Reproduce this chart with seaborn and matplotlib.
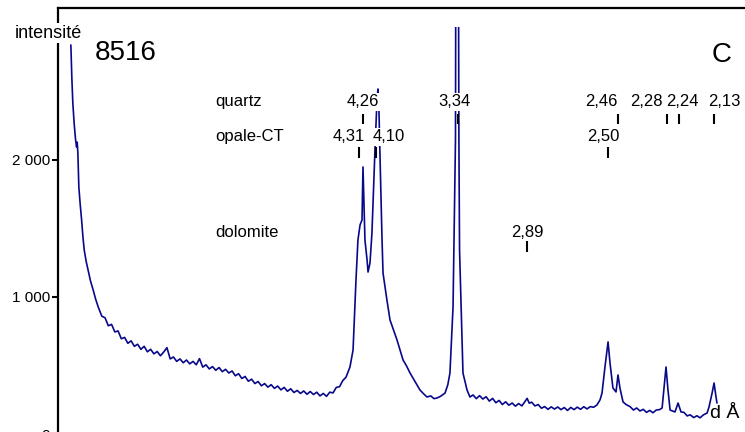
import numpy as np
import pandas as pd
import matplotlib.pyplot as plt
import seaborn as sns
from matplotlib.patches import Rectangle

# Cu K-alpha wavelength, used to place the d-spacing marks on the 2-theta axis
WAVELENGTH = 1.5406

# diffractogram (2-theta in degrees, counts)
two_theta = [
    2.90, 2.96, 3.02, 3.10, 3.19, 3.25, 3.29, 3.33, 3.39, 3.47, 3.56, 3.64, 3.72, 3.84,
    3.96, 4.10, 4.27, 4.42, 4.58, 4.80, 5.00, 5.20, 5.40, 5.60, 5.80, 6.00, 6.20, 6.40,
    6.60, 6.80, 7.00, 7.20, 7.40, 7.60, 7.80, 8.00, 8.20, 8.40, 8.60, 8.80, 9.00, 9.20,
    9.40, 9.60, 9.80, 10.00, 10.20, 10.40, 10.60, 10.80, 11.00, 11.20, 11.40, 11.60,
    11.80, 12.00, 12.20, 12.40, 12.60, 12.80, 13.00, 13.20, 13.40, 13.60, 13.80, 14.00,
    14.20, 14.40, 14.60, 14.80, 15.00, 15.20, 15.40, 15.60, 15.80, 16.00, 16.20, 16.40,
    16.60, 16.80, 17.00, 17.20, 17.40, 17.60, 17.80, 18.00, 18.20, 18.40, 18.60, 18.80,
    19.00, 19.20, 19.40, 19.60, 19.80, 20.04, 20.23, 20.41, 20.53, 20.66, 20.78, 20.84,
    20.96, 21.09, 21.15, 21.27, 21.39, 21.52, 21.58, 21.70, 21.76, 21.82, 21.88, 22.01,
    22.07, 22.31, 22.50, 22.70, 22.93, 23.10, 23.30, 23.50, 23.73, 24.00, 24.34, 24.55,
    24.77, 25.00, 25.20, 25.39, 25.60, 25.88, 26.05, 26.18, 26.37, 26.52, 26.61, 26.73,
    26.77, 26.92, 26.98, 27.23, 27.41, 27.60, 27.80, 28.00, 28.20, 28.40, 28.60, 28.80,
    29.00, 29.20, 29.40, 29.60, 29.80, 30.00, 30.20, 30.40, 30.60, 30.80, 30.92, 31.05,
    31.20, 31.40, 31.60, 31.80, 32.00, 32.20, 32.40, 32.60, 32.80, 33.00, 33.20, 33.40,
    33.60, 33.80, 34.00, 34.20, 34.40, 34.60, 34.80, 35.00, 35.21, 35.40, 35.52, 35.70,
    35.89, 36.01, 36.19, 36.38, 36.50, 36.62, 36.81, 37.00, 37.24, 37.45, 37.65, 37.85,
    38.05, 38.25, 38.45, 38.65, 38.85, 39.05, 39.21, 39.33, 39.45, 39.57, 39.70, 39.85,
    40.00, 40.19, 40.37, 40.55, 40.75, 40.93, 41.15, 41.35, 41.54, 41.75, 41.97, 42.09,
    42.28, 42.40, 42.52, 42.58,
]
intensity = [
    2839, 2600, 2416, 2270, 2146, 2095, 2130, 2051, 1803, 1680, 1562, 1440, 1343, 1260,
    1197, 1120, 1051, 985, 927, 860, 848, 790, 800, 745, 752, 695, 705, 662,
    680, 640, 655, 618, 640, 600, 618, 585, 602, 571, 598, 630, 548, 562,
    530, 548, 520, 540, 512, 530, 505, 550, 488, 505, 475, 492,
    465, 485, 455, 472, 445, 460, 425, 440, 405, 420, 385, 400,
    368, 383, 352, 368, 342, 360, 333, 350, 322, 340, 312, 330,
    303, 318, 296, 314, 290, 310, 288, 305, 278, 296, 275, 305,
    300, 340, 345, 390, 415, 489, 613, 1124, 1416, 1526, 1562, 1949,
    1416, 1270, 1182, 1248, 1467, 1905, 2088, 2438, 2518, 2365, 2051, 1416,
    1175, 978, 832, 764, 686, 619, 540, 500, 445, 390, 321, 295,
    270, 278, 258, 263, 275, 299, 360, 445, 927, 2146, 8000, 2146,
    1343, 686, 445, 321, 270, 285, 258, 280, 255, 272, 240, 260,
    228, 245, 215, 235, 210, 226, 203, 222, 205, 240, 260, 225,
    232, 205, 215, 188, 200, 180, 198, 182, 197, 178, 193, 172,
    194, 178, 196, 180, 199, 183, 200, 195, 212, 250, 299, 489,
    672, 518, 336, 307, 431, 336, 234, 215, 200, 175, 190, 168,
    180, 158, 172, 155, 175, 178, 190, 343, 489, 321, 175, 168,
    161, 226, 161, 158, 132, 140, 120, 133, 118, 140, 153, 197,
    299, 372, 270, 226,
]

quartz_d = [4.26, 3.34, 2.46, 2.28, 2.24, 2.13]
quartz_labels = ["4,26", "3,34", "2,46", "2,28", "2,24", "2,13"]
opal_d = [4.31, 4.10, 2.50]
opal_labels = ["4,31", "4,10", "2,50"]
dolomite_d = [2.89]
dolomite_labels = ["2,89"]

ytick_values = [0, 1000, 2000]
ytick_labels = ["0", "1 000", "2 000"]

# layout of the mark rows: (name, d values, labels, text y, tick bottom, tick top, label shifts in px)
rows = [
    ("quartz", quartz_d, quartz_labels, 2423, 2263, 2336, [0, -3, -17, -20, 4, 10]),
    ("opale-CT", opal_d, opal_labels, 2168, 2015, 2095, [-10, 12, -5]),
    ("dolomite", dolomite_d, dolomite_labels, 1474, 1328, 1409, [0]),
]

sns.set_style("ticks")
plt.rcParams['font.family'] = ['Liberation Sans', 'DejaVu Sans']
plt.rcParams['text.color'] = 'black'
plt.rcParams['ytick.color'] = 'black'
plt.rcParams['ytick.labelcolor'] = 'black'

df = pd.DataFrame({"two_theta": two_theta, "intensity": intensity})

fig = plt.figure(figsize=(7.45, 4.32), dpi=100)
ax = fig.add_axes([58 / 745, -2 / 432, 687 / 745, 426 / 432])

sns.lineplot(data=df, x="two_theta", y="intensity", ax=ax, color="#08088a",
             linewidth=1.2, estimator=None, sort=False, legend=False)

ax.set_xlim(2.11, 44.30)
ax.set_ylim(0, 3109)

# the strongest quartz line runs out of the frame a little below the top border
clip = Rectangle((0, 0), 1, 2971 / 3109, transform=ax.transAxes)
ax.lines[0].set_clip_path(clip)

for name, dvals, labels, ytext, ylo, yhi, shifts in rows:
    ax.text((215 - 58) / 687, ytext / 3109, name, transform=ax.transAxes,
            ha="left", va="center", fontsize=12, color="black")
    for d, lab, dx in zip(dvals, labels, shifts):
        tt = 2 * np.degrees(np.arcsin(WAVELENGTH / (2 * d)))
        ax.vlines(tt, ylo, yhi, color="black", linewidth=1.5, zorder=5)
        ax.annotate(lab, xy=(tt, ytext), xytext=(dx, 0), textcoords="offset pixels",
                    ha="center", va="center", fontsize=12, zorder=6, color="black",
                    bbox=dict(facecolor="white", edgecolor="none", pad=1.0))

ax.set_yticks(ytick_values)
ax.set_yticklabels(ytick_labels)
ax.set_xticks([])
ax.set_xlabel("")
ax.set_ylabel("")
ax.tick_params(axis="y", length=4, width=1.5, pad=1.5, labelsize=11,
               color="black", labelcolor="black")
for side in ["bottom", "right"]:
    ax.spines[side].set_visible(False)
for side in ["left", "top"]:
    ax.spines[side].set_linewidth(1.6)
    ax.spines[side].set_color("black")

fig.text(48 / 745, 1 - 33 / 432, "intensité", ha="center", va="center", fontsize=13,
         color="black", bbox=dict(facecolor="white", edgecolor="none", pad=1.0), zorder=10)
fig.text(95 / 745, 1 - 53 / 432, "8516", ha="left", va="center", fontsize=20, color="black")
fig.text(722 / 745, 1 - 55 / 432, "C", ha="center", va="center", fontsize=20, color="black")
fig.text(725 / 745, 1 - 414 / 432, "d Å", ha="center", va="center", fontsize=14, color="black")

fig.savefig("out.png", dpi=100)
